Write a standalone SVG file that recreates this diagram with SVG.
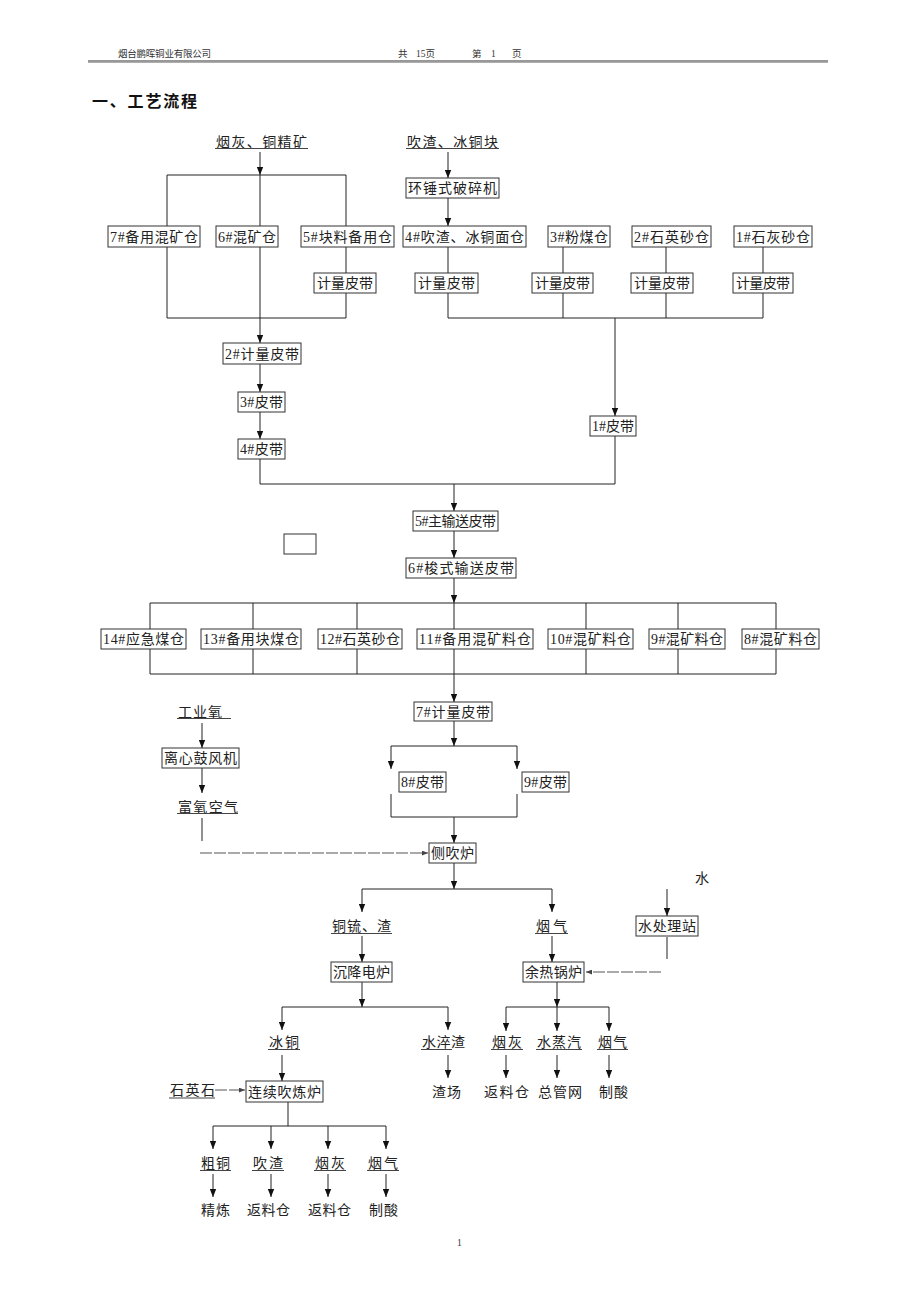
<svg xmlns="http://www.w3.org/2000/svg" width="920" height="1302" viewBox="0 0 920 1302">
<style>
.bx{fill:#fff;stroke:#333;stroke-width:1}
.t{font-family:"Liberation Serif","Noto Sans CJK SC",serif;font-size:14px;fill:#222}
.h{font-family:"Liberation Serif","Noto Sans CJK SC",serif;font-size:9.5px;fill:#333}
.ul{stroke:#444;stroke-width:1}
.c line,.c path{stroke:#222;stroke-width:1;fill:none}
.c .a{marker-end:url(#ah)}
.c .d{stroke:#555;stroke-dasharray:12 2;marker-end:url(#sa)}
</style>
<defs>
<marker id="ah" viewBox="0 0 10 8" refX="10" refY="4" markerWidth="8" markerHeight="7" orient="auto" markerUnits="userSpaceOnUse"><path d="M0,0 L10,4 L0,8 z" fill="#111"/></marker>
<marker id="sa" viewBox="0 0 10 8" refX="10" refY="4" markerWidth="6" markerHeight="5" orient="auto" markerUnits="userSpaceOnUse"><path d="M0,0 L10,4 L0,8 z" fill="#444"/></marker>
</defs>
<rect width="920" height="1302" fill="#fff"/>

<g id="header">
<text class="h" x="118" y="57" textLength="93">烟台鹏晖铜业有限公司</text>
<text class="h" x="398" y="57">共</text>
<text class="h" x="416" y="57">15页</text>
<text class="h" x="472" y="57">第</text>
<text class="h" x="491" y="57">1</text>
<text class="h" x="512" y="57">页</text>
<line x1="88" y1="61" x2="828" y2="61" stroke="#333" stroke-width="1.2"/>
<line x1="88" y1="62.5" x2="828" y2="62.5" stroke="#999" stroke-width="0.8"/>
<text x="92" y="107" font-family="Liberation Serif,Noto Sans CJK SC,serif" font-size="16" font-weight="bold" fill="#111" textLength="105">一、工艺流程</text>
</g>

<g class="c" id="connectors">
<line class="a" x1="260" y1="152" x2="260" y2="175"/>
<line x1="167" y1="175" x2="346" y2="175"/>
<line x1="167" y1="175" x2="167" y2="226"/>
<line x1="260" y1="175" x2="260" y2="226"/>
<line x1="346" y1="175" x2="346" y2="226"/>
<line class="a" x1="448" y1="152" x2="448" y2="178"/>
<line class="a" x1="448" y1="198" x2="448" y2="226"/>
<line x1="167" y1="247" x2="167" y2="318"/>
<line class="a" x1="260" y1="247" x2="260" y2="343"/>
<line x1="346" y1="247" x2="346" y2="273"/>
<line x1="346" y1="293" x2="346" y2="318"/>
<line x1="167" y1="318" x2="346" y2="318"/>
<line x1="448" y1="247" x2="448" y2="273"/>
<line x1="448" y1="293" x2="448" y2="318"/>
<line x1="563" y1="247" x2="563" y2="273"/>
<line x1="563" y1="293" x2="563" y2="318"/>
<line x1="666" y1="247" x2="666" y2="273"/>
<line x1="666" y1="293" x2="666" y2="318"/>
<line x1="763" y1="247" x2="763" y2="273"/>
<line x1="763" y1="293" x2="763" y2="318"/>
<line x1="448" y1="318" x2="763" y2="318"/>
<line class="a" x1="615" y1="318" x2="615" y2="416"/>
<line class="a" x1="260" y1="364" x2="260" y2="392"/>
<line class="a" x1="260" y1="412" x2="260" y2="439"/>
<line x1="260" y1="459" x2="260" y2="484"/>
<line x1="615" y1="436" x2="615" y2="484"/>
<line x1="260" y1="484" x2="615" y2="484"/>
<line class="a" x1="454" y1="484" x2="454" y2="511"/>
<line class="a" x1="454" y1="531" x2="454" y2="558"/>
<line class="a" x1="454" y1="578" x2="454" y2="603"/>
<line x1="150" y1="603" x2="776" y2="603"/>
<path d="M150,603V629M253,603V629M357,603V629M454,603V629M586,603V629M678,603V629M776,603V629"/>
<path d="M150,649V674M253,649V674M357,649V674M454,649V674M586,649V674M678,649V674M776,649V674"/>
<line x1="150" y1="674" x2="776" y2="674"/>
<line class="a" x1="454" y1="674" x2="454" y2="702"/>
<line class="a" x1="454" y1="721" x2="454" y2="746"/>
<line x1="391" y1="746" x2="517" y2="746"/>
<line class="a" x1="391" y1="746" x2="391" y2="769"/>
<line class="a" x1="517" y1="746" x2="517" y2="769"/>
<line x1="391" y1="794" x2="391" y2="817"/>
<line x1="517" y1="794" x2="517" y2="817"/>
<line x1="391" y1="817" x2="517" y2="817"/>
<line class="a" x1="454" y1="817" x2="454" y2="843"/>
<line class="a" x1="202" y1="723" x2="202" y2="748"/>
<line class="a" x1="202" y1="768" x2="202" y2="793"/>
<line x1="202" y1="818" x2="202" y2="841"/>
<line class="d" x1="200" y1="853" x2="428" y2="853"/>
<line class="a" x1="454" y1="863" x2="454" y2="889"/>
<line x1="362" y1="889" x2="552" y2="889"/>
<line class="a" x1="362" y1="889" x2="362" y2="912"/>
<line class="a" x1="552" y1="889" x2="552" y2="912"/>
<line class="a" x1="667" y1="889" x2="667" y2="916"/>
<line x1="667" y1="937" x2="667" y2="959"/>
<line class="d" x1="661" y1="972" x2="586" y2="972"/>
<line class="a" x1="362" y1="936" x2="362" y2="962"/>
<line class="a" x1="552" y1="936" x2="552" y2="962"/>
<line class="a" x1="362" y1="982" x2="362" y2="1007"/>
<line x1="282" y1="1007" x2="448" y2="1007"/>
<line class="a" x1="282" y1="1007" x2="282" y2="1030"/>
<line class="a" x1="448" y1="1007" x2="448" y2="1030"/>
<line class="a" x1="557" y1="982" x2="557" y2="1007"/>
<line x1="506" y1="1007" x2="609" y2="1007"/>
<line class="a" x1="506" y1="1007" x2="506" y2="1031"/>
<line class="a" x1="557" y1="1007" x2="557" y2="1031"/>
<line class="a" x1="609" y1="1007" x2="609" y2="1031"/>
<line class="a" x1="448" y1="1055" x2="448" y2="1078"/>
<line class="a" x1="506" y1="1055" x2="506" y2="1078"/>
<line class="a" x1="557" y1="1055" x2="557" y2="1078"/>
<line class="a" x1="609" y1="1055" x2="609" y2="1078"/>
<line class="a" x1="282" y1="1055" x2="282" y2="1081"/>
<line class="d" x1="215" y1="1090" x2="245" y2="1090"/>
<line x1="288" y1="1102" x2="288" y2="1126"/>
<line x1="213" y1="1126" x2="386" y2="1126"/>
<line class="a" x1="213" y1="1126" x2="213" y2="1149"/>
<line class="a" x1="271" y1="1126" x2="271" y2="1149"/>
<line class="a" x1="328" y1="1126" x2="328" y2="1149"/>
<line class="a" x1="386" y1="1126" x2="386" y2="1149"/>
<line class="a" x1="213" y1="1174" x2="213" y2="1197"/>
<line class="a" x1="271" y1="1174" x2="271" y2="1197"/>
<line class="a" x1="328" y1="1174" x2="328" y2="1197"/>
<line class="a" x1="386" y1="1174" x2="386" y2="1197"/>
</g>

<g id="src1"><text class="t" x="216" y="147" textLength="91">烟灰、铜精矿</text><line class="ul" x1="215" y1="148.5" x2="308" y2="148.5"/></g>
<g id="src2"><text class="t" x="407" y="147" textLength="91">吹渣、冰铜块</text><line class="ul" x1="406" y1="148.5" x2="499" y2="148.5"/></g>

<g id="crusher"><rect class="bx" x="406" y="178" width="93" height="20"/><text class="t" x="408" y="193" textLength="89">环锤式破碎机</text></g>

<g id="bin7"><rect class="bx" x="108" y="226" width="92" height="21"/><text class="t" x="110" y="241.5" textLength="88">7#备用混矿仓</text></g>
<g id="bin6"><rect class="bx" x="216" y="226" width="62" height="21"/><text class="t" x="218" y="241.5" textLength="58">6#混矿仓</text></g>
<g id="bin5"><rect class="bx" x="301" y="226" width="93" height="21"/><text class="t" x="303" y="241.5" textLength="89">5#块料备用仓</text></g>
<g id="bin4"><rect class="bx" x="403" y="226" width="123" height="21"/><text class="t" x="405" y="241.5" textLength="119">4#吹渣、冰铜面仓</text></g>
<g id="bin3"><rect class="bx" x="548" y="226" width="62" height="21"/><text class="t" x="550" y="241.5" textLength="58">3#粉煤仓</text></g>
<g id="bin2"><rect class="bx" x="632" y="226" width="79" height="21"/><text class="t" x="634" y="241.5" textLength="75">2#石英砂仓</text></g>
<g id="bin1"><rect class="bx" x="734" y="226" width="78" height="21"/><text class="t" x="736" y="241.5" textLength="74">1#石灰砂仓</text></g>

<g id="belt5"><rect class="bx" x="314" y="273" width="62" height="20"/><text class="t" x="317" y="288" textLength="56">计量皮带</text></g>
<g id="belt4"><rect class="bx" x="415" y="273" width="63" height="20"/><text class="t" x="418" y="288" textLength="57">计量皮带</text></g>
<g id="belt3"><rect class="bx" x="532" y="273" width="61" height="20"/><text class="t" x="535" y="288" textLength="55">计量皮带</text></g>
<g id="belt2"><rect class="bx" x="631" y="273" width="62" height="20"/><text class="t" x="634" y="288" textLength="56">计量皮带</text></g>
<g id="belt1"><rect class="bx" x="733" y="273" width="60" height="20"/><text class="t" x="736" y="288" textLength="54">计量皮带</text></g>

<g id="b2"><rect class="bx" x="223" y="343" width="78" height="21"/><text class="t" x="225" y="358.5" textLength="74">2#计量皮带</text></g>
<g id="b3"><rect class="bx" x="238" y="392" width="47" height="20"/><text class="t" x="240" y="407" textLength="43">3#皮带</text></g>
<g id="b4"><rect class="bx" x="238" y="439" width="47" height="20"/><text class="t" x="240" y="454" textLength="43">4#皮带</text></g>
<g id="b1"><rect class="bx" x="590" y="416" width="46" height="20"/><text class="t" x="592" y="431" textLength="42">1#皮带</text></g>

<g id="main5"><rect class="bx" x="413" y="511" width="85" height="20"/><text class="t" x="415" y="526" textLength="81">5#主输送皮带</text></g>
<g id="blank"><rect class="bx" x="284" y="534" width="32" height="20"/></g>
<g id="shuttle6"><rect class="bx" x="406" y="558" width="110" height="20"/><text class="t" x="408" y="573" textLength="106">6#梭式输送皮带</text></g>

<g id="bin14"><rect class="bx" x="101" y="629" width="85" height="20"/><text class="t" x="103" y="644" textLength="81">14#应急煤仓</text></g>
<g id="bin13"><rect class="bx" x="201" y="629" width="100" height="20"/><text class="t" x="203" y="644" textLength="96">13#备用块煤仓</text></g>
<g id="bin12"><rect class="bx" x="318" y="629" width="84" height="20"/><text class="t" x="320" y="644" textLength="80">12#石英砂仓</text></g>
<g id="bin11"><rect class="bx" x="417" y="629" width="116" height="20"/><text class="t" x="419" y="644" textLength="112">11#备用混矿料仓</text></g>
<g id="bin10"><rect class="bx" x="548" y="629" width="85" height="20"/><text class="t" x="550" y="644" textLength="81">10#混矿料仓</text></g>
<g id="bin9"><rect class="bx" x="649" y="629" width="76" height="20"/><text class="t" x="651" y="644" textLength="72">9#混矿料仓</text></g>
<g id="bin8"><rect class="bx" x="742" y="629" width="77" height="20"/><text class="t" x="744" y="644" textLength="73">8#混矿料仓</text></g>

<g id="meter7"><rect class="bx" x="414" y="702" width="78" height="19"/><text class="t" x="416" y="716.5" textLength="74">7#计量皮带</text></g>
<g id="b8"><rect class="bx" x="399" y="772" width="47" height="20"/><text class="t" x="401" y="787" textLength="43">8#皮带</text></g>
<g id="b9"><rect class="bx" x="522" y="772" width="47" height="20"/><text class="t" x="524" y="787" textLength="43">9#皮带</text></g>

<g id="oxygen"><text class="t" x="178" y="717" textLength="44">工业氧</text><line class="ul" x1="177" y1="718.5" x2="231" y2="718.5"/></g>
<g id="blower"><rect class="bx" x="162" y="748" width="77" height="20"/><text class="t" x="164" y="763" textLength="73">离心鼓风机</text></g>
<g id="air"><text class="t" x="178" y="812" textLength="60">富氧空气</text><line class="ul" x1="177" y1="813.5" x2="238" y2="813.5"/></g>
<g id="furnace"><rect class="bx" x="429" y="843" width="47" height="20"/><text class="t" x="431" y="858" textLength="43">侧吹炉</text></g>

<g id="water"><text class="t" x="695" y="883">水</text></g>
<g id="watertreat"><rect class="bx" x="636" y="916" width="62" height="20"/><text class="t" x="638" y="931" textLength="58">水处理站</text></g>
<g id="matte"><text class="t" x="332" y="931" textLength="59">铜锍、渣</text><line class="ul" x1="331" y1="933.5" x2="392" y2="933.5"/></g>
<g id="gas1"><text class="t" x="536" y="931" textLength="31">烟气</text><line class="ul" x1="535" y1="933.5" x2="568" y2="933.5"/></g>
<g id="settle"><rect class="bx" x="331" y="962" width="61" height="20"/><text class="t" x="333" y="977" textLength="57">沉降电炉</text></g>
<g id="boiler"><rect class="bx" x="523" y="962" width="61" height="20"/><text class="t" x="525" y="977" textLength="57">余热锅炉</text></g>

<g id="matte2"><text class="t" x="269" y="1047" textLength="30">冰铜</text><line class="ul" x1="268" y1="1049.5" x2="300" y2="1049.5"/></g>
<g id="slag"><text class="t" x="422" y="1047" textLength="43">水淬渣</text><line class="ul" x1="421" y1="1049.5" x2="452" y2="1049.5"/></g>
<g id="ash1"><text class="t" x="492" y="1047" textLength="30">烟灰</text><line class="ul" x1="491" y1="1049.5" x2="523" y2="1049.5"/></g>
<g id="steam"><text class="t" x="537" y="1047" textLength="44">水蒸汽</text><line class="ul" x1="536" y1="1049.5" x2="582" y2="1049.5"/></g>
<g id="gas2"><text class="t" x="598" y="1047" textLength="29">烟气</text><line class="ul" x1="597" y1="1049.5" x2="628" y2="1049.5"/></g>
<g id="slagyard"><text class="t" x="432" y="1097" textLength="29">渣场</text></g>
<g id="ret1"><text class="t" x="484" y="1097" textLength="45">返料仓</text></g>
<g id="grid"><text class="t" x="538" y="1097" textLength="44">总管网</text></g>
<g id="acid1"><text class="t" x="599" y="1097" textLength="29">制酸</text></g>

<g id="quartz"><text class="t" x="170" y="1095" textLength="45">石英石</text><line class="ul" x1="169" y1="1098" x2="215" y2="1098"/></g>
<g id="converter"><rect class="bx" x="246" y="1081" width="77" height="21"/><text class="t" x="248" y="1096.5" textLength="73">连续吹炼炉</text></g>

<g id="blister"><text class="t" x="201" y="1168" textLength="29">粗铜</text><line class="ul" x1="200" y1="1170.5" x2="231" y2="1170.5"/></g>
<g id="bslag"><text class="t" x="253" y="1168" textLength="30">吹渣</text><line class="ul" x1="252" y1="1170.5" x2="284" y2="1170.5"/></g>
<g id="ash2"><text class="t" x="315" y="1168" textLength="30">烟灰</text><line class="ul" x1="314" y1="1170.5" x2="346" y2="1170.5"/></g>
<g id="gas3"><text class="t" x="368" y="1168" textLength="30">烟气</text><line class="ul" x1="367" y1="1170.5" x2="399" y2="1170.5"/></g>
<g id="refine"><text class="t" x="201" y="1215" textLength="29">精炼</text></g>
<g id="ret2"><text class="t" x="247" y="1215" textLength="43">返料仓</text></g>
<g id="ret3"><text class="t" x="308" y="1215" textLength="43">返料仓</text></g>
<g id="acid2"><text class="t" x="369" y="1215" textLength="29">制酸</text></g>

<g id="pagenum"><text class="h" x="457" y="1246" font-size="10">1</text></g>
</svg>
